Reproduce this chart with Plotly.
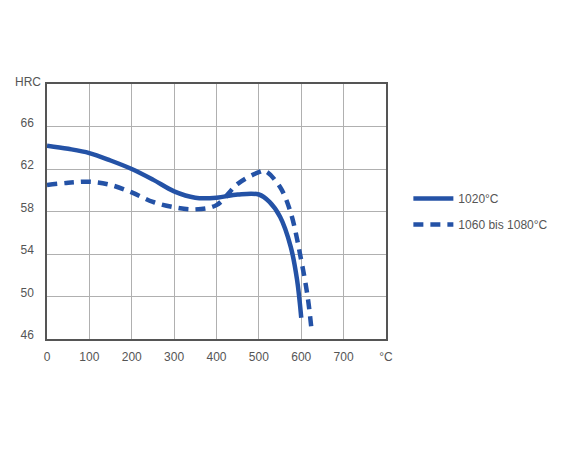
import plotly.graph_objects as go

# Tempering temperature (°C) and hardness (HRC)
temp_1020 = [0, 50, 100, 150, 200, 250, 300, 350, 400, 450, 500, 525, 550, 575, 590, 600]
hrc_1020 = [64.2, 63.9, 63.5, 62.8, 62.0, 61.0, 59.9, 59.3, 59.3, 59.6, 59.6, 58.9, 57.5, 54.7, 51.6, 48.0]

temp_1060 = [0, 50, 100, 150, 200, 250, 300, 350, 400, 450, 500, 515, 550, 575, 600, 615, 625]
hrc_1060 = [60.5, 60.7, 60.8, 60.5, 59.8, 58.9, 58.4, 58.2, 58.6, 60.6, 61.7, 61.8, 60.3, 57.9, 53.4, 50.0, 46.6]

series_names = ["1020°C", "1060 bis 1080°C"]

x_tickvals = [0, 100, 200, 300, 400, 500, 600, 700, 800]
x_ticktext = ["0", "100", "200", "300", "400", "500", "600", "700", "°C"]
y_tickvals = [46, 50, 54, 58, 62, 66]
y_ticktext = ["46", "50", "54", "58", "62", "66"]

color = "#2452a6"
txt = "#555555"
font = dict(family="Liberation Sans, Arial, sans-serif", size=12, color=txt)

fig = go.Figure()
fig.add_trace(go.Scatter(x=temp_1020, y=hrc_1020, mode="lines", name=series_names[0], legendgroup="a",
                         line=dict(color=color, width=4.5, shape="spline", smoothing=1.0)))
fig.add_trace(go.Scatter(x=temp_1060, y=hrc_1060, mode="lines", name=series_names[1], legendgroup="b",
                         line=dict(color=color, width=4.5, shape="spline", smoothing=1.0, dash="10px,7px")))

fig.update_layout(
    width=561, height=450,
    margin=dict(l=47, r=175, t=84, b=111, autoexpand=False),
    paper_bgcolor="white", plot_bgcolor="white",
    font=font,
    showlegend=True,
    legend=dict(x=1.066, y=0.608, xanchor="left", yanchor="top", font=dict(size=12, color=txt),
                tracegroupgap=7, itemwidth=40, bgcolor="rgba(0,0,0,0)"),
    xaxis=dict(range=[0, 800], tickvals=x_tickvals, ticktext=x_ticktext, showgrid=True,
               gridcolor="#b0b0b0", gridwidth=1, showline=True, linecolor="#555555", linewidth=1.5,
               mirror=True, ticks="", ticklabelstandoff=6, zeroline=False, fixedrange=True,
               automargin=False),
    yaxis=dict(range=[46, 70], tickvals=y_tickvals, ticktext=y_ticktext, showgrid=True,
               gridcolor="#b0b0b0", gridwidth=1, showline=True, linecolor="#555555", linewidth=1.5,
               mirror=True, ticks="", ticklabelstandoff=9, ticklabelshift=-4, zeroline=False,
               fixedrange=True, automargin=False),
    annotations=[dict(text="HRC", xref="paper", yref="paper", x=0, y=1, xanchor="right",
                      yanchor="bottom", xshift=-4, yshift=-7, showarrow=False,
                      font=dict(size=12, color=txt))],
)

fig.write_html("out.html")
